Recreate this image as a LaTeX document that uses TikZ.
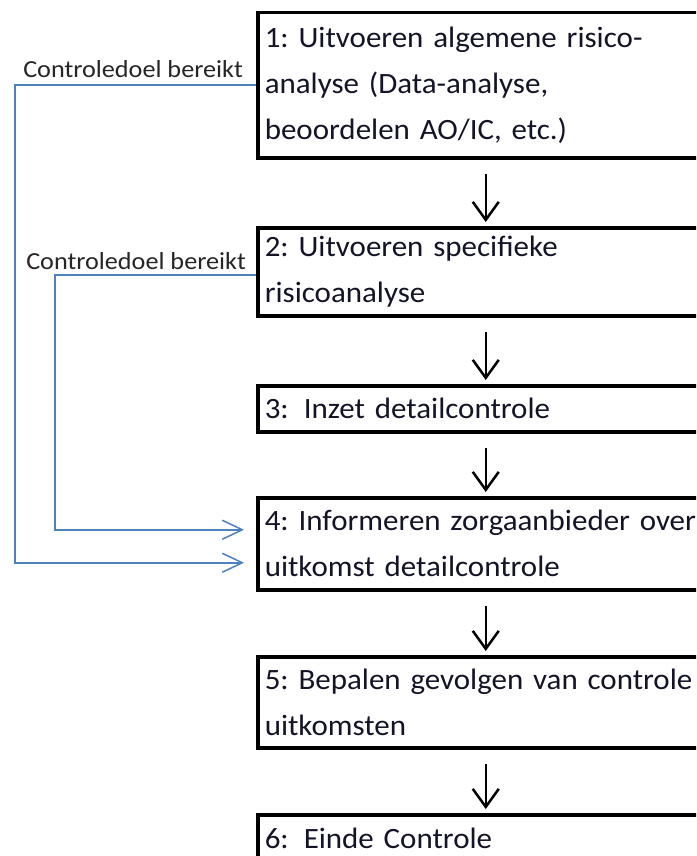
\documentclass[tikz,border=0pt]{standalone}
\usepackage{fontspec}
\setmainfont{Carlito}
\newfontfamily\boxfont[FakeStretch=1.05]{Carlito}
\newfontfamily\labfont[FakeStretch=1.07]{Carlito}
\usetikzlibrary{arrows.meta}
\definecolor{fbblue}{RGB}{79,129,189}
\definecolor{lbl}{RGB}{38,38,38}
\definecolor{txt}{RGB}{20,20,40}
\frenchspacing
\begin{document}
\begin{tikzpicture}[x=1pt,y=-1pt,
  stepbox/.style={draw=black, line width=3.5pt, anchor=north west, text width=442pt,
    inner xsep=7pt, inner ysep=0pt, align=left, text=txt,
    font=\boxfont\fontsize{29.5}{46}\selectfont\frenchspacing},
  flow/.style={draw=black, line width=2.5pt, -{Straight Barb[length=18pt,width=26pt]},
    shorten <=14pt, shorten >=4pt},
  back/.style={draw=fbblue, line width=1.5pt, -{Straight Barb[length=20pt,width=19pt]},
    shorten >=12pt},
  lab/.style={font=\labfont\fontsize{24.5}{28}\selectfont, text=lbl, inner sep=0pt, anchor=base east}]
\clip (0,0) rectangle (696,856);
\fill[white] (0,0) rectangle (696,856);

\node[stepbox, minimum height=145pt] (b1) at (256,11) {\mbox{1: Uitvoeren algemene risico-}\\\mbox{analyse (Data-analyse,}\\\mbox{beoordelen AO/IC, etc.)}};
\node[stepbox, minimum height=88pt] (b2) at (256,226) {\mbox{2: Uitvoeren specifieke}\\\mbox{risicoanalyse}};
\node[stepbox, minimum height=46pt] (b3) at (256,384) {\mbox{3:\hspace*{15pt}Inzet detailcontrole}};
\node[stepbox, minimum height=92pt] (b4) at (256,496) {\mbox{4: Informeren zorgaanbieder over}\\\mbox{uitkomst detailcontrole}};
\node[stepbox, minimum height=91pt] (b5) at (256,655) {\mbox{5: Bepalen gevolgen van controle}\\\mbox{uitkomsten}};
\node[stepbox, minimum height=48pt] (b6) at (256,813) {\mbox{6:\hspace*{15pt}Einde Controle}};

\draw[flow] (b1.south) -- (b2.north);
\draw[flow] (b2.south) -- (b3.north);
\draw[flow] (b3.south) -- (b4.north);
\draw[flow] (b4.south) -- (b5.north);
\draw[flow] (b5.south) -- (b6.north);

\coordinate (x1) at (15,0);
\coordinate (x2) at (55,0);
\coordinate (t1) at ([yshift=-19pt]b4.west);
\coordinate (t2) at ([yshift=14pt]b4.west);
\draw[back] (b1.west) -| (x1 |- t1) -- (t1);
\draw[back] ([yshift=-3pt]b2.west) -| (x2 |- t2) -- (t2);

\node[lab] (l1) at (243,78) {Controledoel bereikt};
\node[lab] (l2) at (246,269) {Controledoel bereikt};
\end{tikzpicture}
\end{document}
